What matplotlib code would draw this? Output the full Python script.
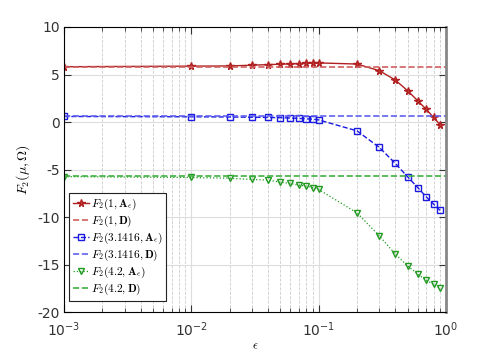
import numpy as np
import matplotlib.pyplot as plt
from matplotlib.ticker import LogLocator, NullFormatter

plt.rcParams["mathtext.fontset"] = "cm"

eps = [0.001, 0.01, 0.02, 0.03, 0.04, 0.05, 0.06, 0.07, 0.08, 0.09,
       0.1, 0.2, 0.3, 0.4, 0.5, 0.6, 0.7, 0.8, 0.9]

f_mu1 = [5.82, 5.88, 5.9, 5.98, 6.04, 6.08, 6.12, 6.15, 6.18, 6.2,
         6.22, 6.1, 5.4, 4.42, 3.29, 2.24, 1.33, 0.48, -0.29]
f_mu2 = [0.58, 0.55, 0.53, 0.5, 0.48, 0.45, 0.42, 0.38, 0.33, 0.3,
         0.22, -0.93, -2.68, -4.36, -5.77, -6.9, -7.88, -8.65, -9.3]
f_mu3 = [-5.75, -5.84, -5.92, -6.05, -6.12, -6.33, -6.47, -6.65, -6.75, -6.9,
         -7.1, -9.56, -12.0, -13.9, -15.15, -16.0, -16.66, -17.08, -17.5]

d_mu1 = 5.8
d_mu2 = 0.6
d_mu3 = -5.7

mus = ["1", "3.1416", "4.2"]

fig = plt.figure(figsize=(4.93, 3.52), dpi=100)
ax = fig.add_axes([0.1298, 0.1136, 0.7748, 0.8097])

ax.semilogx(eps, f_mu1, "-*", color="#b02020", lw=1.0, ms=5.5, mfc="#c84040",
            label=rf"$F_2({mus[0]},\mathbf{{A}}_\epsilon)$")
ax.axhline(d_mu1, color="#d06060", ls="--", lw=1.2,
           label=rf"$F_2({mus[0]},\mathbf{{D}})$")
ax.semilogx(eps, f_mu2, "--s", color="#1a1ae0", lw=1.0, ms=4.5, mfc="none",
            label=rf"$F_2({mus[1]},\mathbf{{A}}_\epsilon)$")
ax.axhline(d_mu2, color="#6060f0", ls="--", lw=1.2,
           label=rf"$F_2({mus[1]},\mathbf{{D}})$")
ax.semilogx(eps, f_mu3, ":v", color="#1f9a1f", lw=0.9, ms=5, mfc="none",
            label=rf"$F_2({mus[2]},\mathbf{{A}}_\epsilon)$")
ax.axhline(d_mu3, color="#40b040", ls="--", lw=1.2,
           label=rf"$F_2({mus[2]},\mathbf{{D}})$")

ax.set_xlim(1e-3, 1)
ax.set_ylim(-20, 10)
ax.set_yticks([-20, -15, -10, -5, 0, 5, 10])
ax.set_yticklabels(["-20", "-15", "-10", "-5", "0", "5", "10"])
ax.xaxis.set_minor_locator(LogLocator(base=10, subs=np.arange(2, 10)))
ax.xaxis.set_minor_formatter(NullFormatter())

ax.grid(True, which="major", color="#dddddd", ls="-", lw=0.8)
ax.grid(True, which="minor", axis="x", color="#cccccc", ls="--", lw=0.6)
ax.set_axisbelow(True)

ax.tick_params(which="both", direction="in", top=True, right=True,
               labelsize=10, colors="#333333")
ax.tick_params(which="major", length=5)
ax.tick_params(which="minor", length=3)
ax.tick_params(axis="x", pad=6)
ax.tick_params(axis="y", pad=3)
ax.spines["right"].set_color("#888888")
ax.spines["right"].set_linewidth(2)

ax.set_xlabel(r"$\epsilon$", fontsize=9)
ax.xaxis.set_label_coords(0.5, -0.095)
ax.set_ylabel(r"$F_2(\mu,\Omega)$", fontsize=10, labelpad=4)

leg = ax.legend(loc="lower left", bbox_to_anchor=(0.014, 0.04),
                fontsize=8.2, handlelength=1.4, handletextpad=0.2,
                borderpad=0.3, labelspacing=0.15, fancybox=False,
                framealpha=1, borderaxespad=0)
leg.get_frame().set_edgecolor("#222222")
leg.get_frame().set_linewidth(0.8)

fig.savefig("out.png", dpi=100)
